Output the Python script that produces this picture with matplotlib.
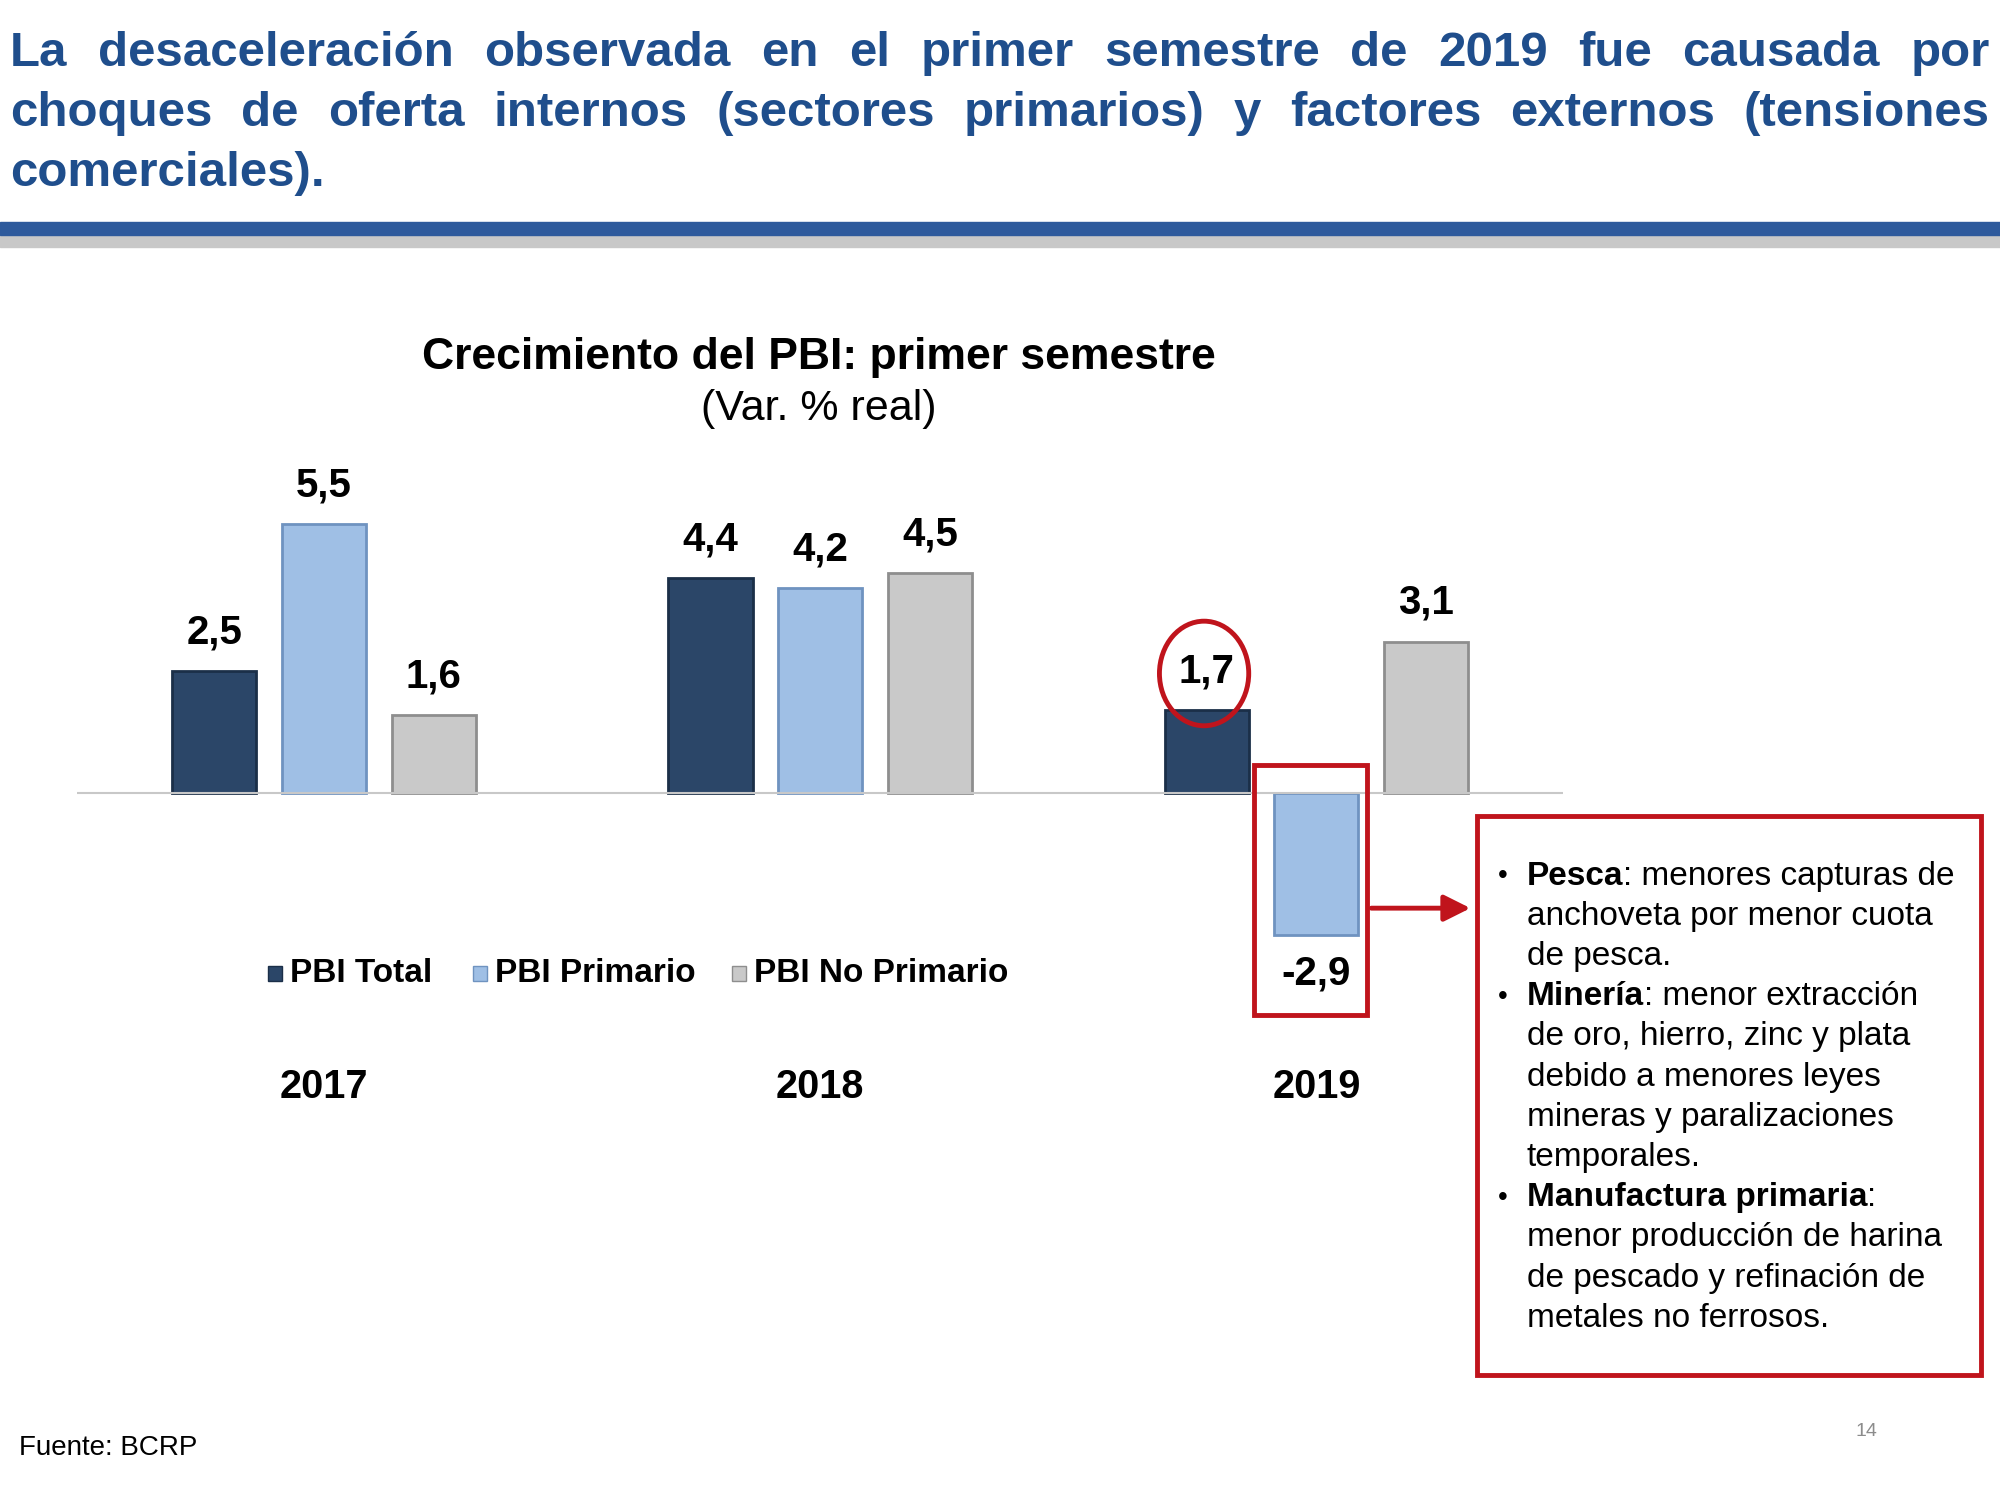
import matplotlib
matplotlib.use('Agg')
import matplotlib.pyplot as plt
from matplotlib.patches import Rectangle, Ellipse, FancyArrowPatch
import numpy as np

plt.rcParams['font.family'] = 'Liberation Sans'

years = ['2017', '2018', '2019']
series = ['PBI Total', 'PBI Primario', 'PBI No Primario']
values = [[2.5, 5.5, 1.6], [4.4, 4.2, 4.5], [1.7, -2.9, 3.1]]
labels = [['2,5', '5,5', '1,6'], ['4,4', '4,2', '4,5'], ['1,7', '-2,9', '3,1']]
colors = ['#2b4668', '#9fbfe5', '#c9c9c9']
edges = ['#1b2f48', '#6f93c0', '#8e8e8e']

W, H = 1568, 1176
def fx(x): return x / W
def fy(y): return 1 - y / H

fig = plt.figure(figsize=(20, 15), dpi=100)
r = fig.canvas.get_renderer()

# header, justified
blue = '#1f4e8c'
head = ["La desaceleración observada en el primer semestre de 2019 fue causada por",
        "choques de oferta internos (sectores primarios) y factores externos (tensiones",
        "comerciales)."]
hy = [42, 89, 136]
x0, x1 = fx(8), fx(1560)
for i, line in enumerate(head):
    words = line.split()
    ts = [fig.text(0, fy(hy[i]), w, fontsize=35.5, weight='bold', color=blue, va='center') for w in words]
    ws = [t.get_window_extent(r).width / fig.bbox.width for t in ts]
    if i < 2:
        gap = (x1 - x0 - sum(ws)) / (len(words) - 1)
    else:
        gap = 0.006
    x = x0
    for t, w in zip(ts, ws):
        t.set_x(x)
        x += w + gap

# rule
fig.add_artist(Rectangle((0, fy(184)), 1, fy(174) - fy(184), transform=fig.transFigure,
                         color='#2e5a9c', zorder=3))
fig.add_artist(Rectangle((0, fy(194)), 1, fy(184) - fy(194), transform=fig.transFigure,
                         color='#c8c8c8', zorder=2))

# chart
ax = fig.add_axes([fx(60), fy(900), fx(1225) - fx(60), fy(300) - fy(900)])
ax.set_xlim(60, 1225)
ax.set_ylim(-(900 - 622) / 38.4, (622 - 300) / 38.4)
ax.axis('off')
ax.axhline(0, color='#c8c8c8', lw=1.5)
for g in range(3):
    for k in range(3):
        xc = 254 + 389 * g + 86 * (k - 1)
        v = values[g][k]
        ax.bar(xc, v, width=66, color=colors[k], edgecolor=edges[k], linewidth=2)
        yl = v + 0.4 if v > 0 else v - 0.4
        ax.text(xc, yl, labels[g][k], ha='center', va='bottom' if v > 0 else 'top',
                fontsize=29, weight='bold')
    ax.text(254 + 389 * g, -(852 - 622) / 38.4, years[g], ha='center', va='center',
            fontsize=28.5, weight='bold')

# legend
lx = [210, 371, 574]
for k in range(3):
    ax.add_patch(Rectangle((lx[k], -(769 - 622) / 38.4), 11, 0.3, color=colors[k], ec=edges[k]))
    ax.text(lx[k] + 17, -(763 - 622) / 38.4, series[k], va='center', fontsize=24, weight='bold')

fig.text(fx(642), fy(280), 'Crecimiento del PBI: primer semestre', ha='center', va='center',
         fontsize=32, weight='bold')
fig.text(fx(642), fy(321), '(Var. % real)', ha='center', va='center', fontsize=31)

red = '#c0141c'
fig.add_artist(Ellipse((fx(944), fy(528)), fx(70), fy(0) - fy(82), transform=fig.transFigure,
                       fill=False, ec=red, lw=3.5))
fig.add_artist(Rectangle((fx(983), fy(796)), fx(89), fy(600) - fy(796), transform=fig.transFigure,
                         fill=False, ec=red, lw=3.5))
fig.add_artist(Rectangle((fx(1158), fy(1078)), fx(395), fy(640) - fy(1078), transform=fig.transFigure,
                         fill=False, ec=red, lw=3.5))
fig.add_artist(FancyArrowPatch((fx(1073), fy(712)), (fx(1155), fy(712)), transform=fig.transFigure,
                               arrowstyle='-|>', mutation_scale=40, color=red, lw=3.5))

# box text
box = [[('•', False), ('Pesca', True), (': menores capturas de', False)],
       [('anchoveta por menor cuota', False)],
       [('de pesca.', False)],
       [('•', False), ('Minería', True), (': menor extracción', False)],
       [('de oro, hierro, zinc y plata', False)],
       [('debido a menores leyes', False)],
       [('mineras y paralizaciones', False)],
       [('temporales.', False)],
       [('•', False), ('Manufactura primaria', True), (':', False)],
       [('menor producción de harina', False)],
       [('de pescado y refinación de', False)],
       [('metales no ferrosos.', False)]]
for i, segs in enumerate(box):
    y = fy(687 + 31.5 * i)
    x = fx(1197)
    for s, b in segs:
        if s == '•':
            fig.text(fx(1174), y, s, fontsize=20, va='center')
            continue
        t = fig.text(x, y, s, fontsize=24, weight='bold' if b else 'normal', va='center')
        x += t.get_window_extent(r).width / fig.bbox.width

fig.text(fx(15), fy(1135), 'Fuente: BCRP', fontsize=20, va='center')
fig.text(fx(1463), fy(1122), '14', fontsize=14, color='#8c8c8c', ha='center', va='center')

fig.savefig('out.png', dpi=100, facecolor='white')
